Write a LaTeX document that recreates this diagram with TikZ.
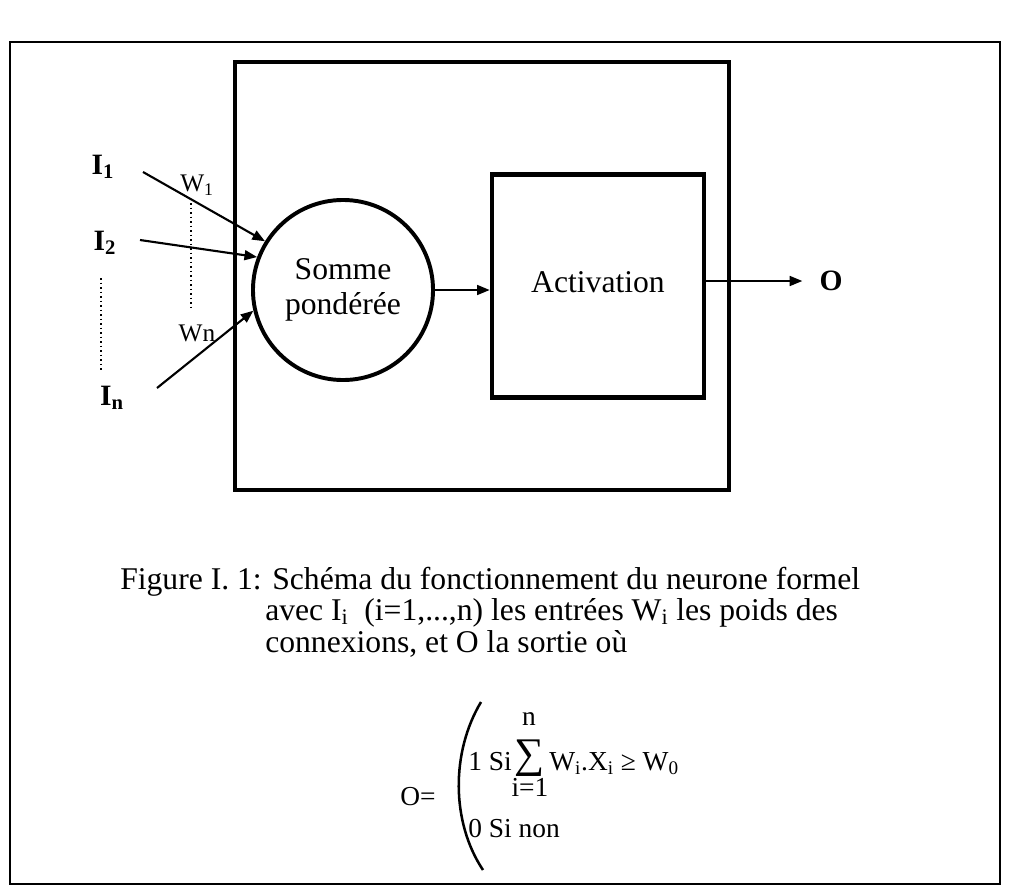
\documentclass[tikz,border=0pt]{standalone}
\usepackage{fontspec}
\setmainfont{Liberation Serif}
\usetikzlibrary{arrows.meta,calc,positioning}
\tikzset{
    arr/.style={-{Triangle[length=9pt,width=7pt]}, line width=1.5pt},
    txt/.style={font=\fontsize{22.5}{25}\selectfont, inner sep=0pt},
    frm/.style={font=\fontsize{19.5}{22}\selectfont, inner sep=0pt},
    wlab/.style={font=\fontsize{18}{21}\selectfont, inner sep=0pt},
    inp/.style={font=\fontsize{21}{24}\selectfont\bfseries, inner sep=0pt},
    boxline/.style={line width=3.2pt},
}

\begin{document}
\begin{tikzpicture}[x=0.025cm, y=-0.025cm]
    \useasboundingbox (0,0) rectangle (1011,894);
    \draw[line width=1.6pt] (10,42) rectangle (1000,884);
    \draw[boxline] (235,62) rectangle (729,490);

    \node[circle, draw, line width=2.8pt, minimum size=4.5cm, align=center, txt] (som) at (343,290) {Somme\\pondérée};
    \node[draw, boxline, minimum width=5.3cm, minimum height=5.575cm, txt] (act) at (598,286) {\raisebox{6pt}{Activation}};
    \node[inp] (o) at (831,281) {O};

    \draw[arr] (som.east) -- (som.east -| act.west);
    \draw[arr, shorten >=12pt] (act.east |- o) -- (o.west);

    \node[inp] (i1) at (103,167) {I\textsubscript{1}};
    \node[inp] (i2) at (105,243) {I\textsubscript{2}};
    \node[inp] (in) at (112,398) {I\textsubscript{n}};
    \node[wlab] (w1) at (197,185) {W\textsubscript{1}};
    \node[wlab] (wn) at (197,333) {Wn};
    \coordinate (s1) at (143,172);
    \coordinate (s2) at (140,240);
    \coordinate (sn) at (157,388);
    \draw[arr] (s1) -- (som.148);
    \draw[arr] (s2) -- (som.159);
    \draw[arr] (sn) -- (som.193);
    \draw[dotted, line width=1.2pt] (101,278) -- (101,370);
    \draw[dotted, line width=1.2pt] (191,203) -- (191,310);

    \node[txt, anchor=base west] (cap1) at (120,589) {Figure I. 1: Schéma du fonctionnement du neurone formel};
    \node[txt, anchor=base west] (cap2) at (265,620) {avec I\textsubscript{i}\ \ (i=1,...,n) les entrées W\textsubscript{i} les poids des};
    \node[txt, anchor=base west] (cap3) at (265,652) {connexions, et O la sortie où};

    \node[frm, anchor=base west] (oeq) at (400,805) {O=};
    \draw[line width=1.8pt] (481,702) .. controls (451,752) and (451,822) .. (483,870);
    \node[frm, anchor=base west] (f1) at (468,770) {1 Si};
    \node[frm, font=\fontsize{30}{30}\selectfont] (sig) at (530,758) {∑};
    \node[frm] (supn) at (529,719) {n};
    \node[frm] (subi) at (530,787) {i=1};
    \node[frm, anchor=base west] (f2) at (549,770) {W\textsubscript{i}.X\textsubscript{i} ≥ W\textsubscript{0}};
    \node[frm, anchor=base west] (f3) at (468,837) {0 Si non};
\end{tikzpicture}
\end{document}
